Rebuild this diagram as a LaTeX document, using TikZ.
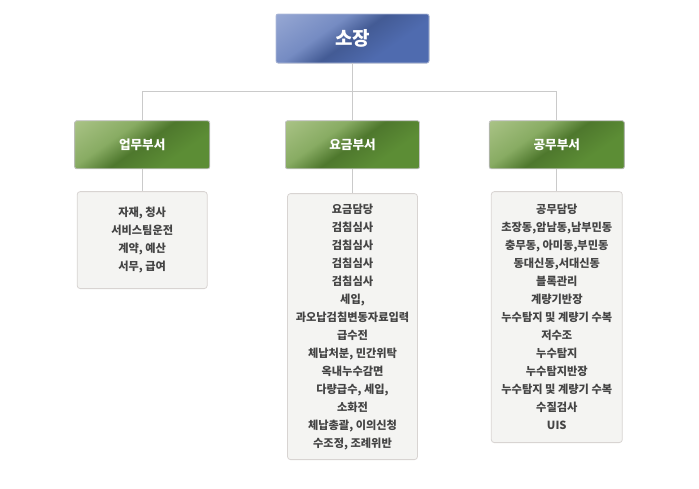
\documentclass[tikz,border=0pt]{standalone}
\usepackage{fontspec}
\setmainfont{Noto Sans CJK KR}
\usepackage{xcolor}
\usepackage{tikz}
\usetikzlibrary{positioning}
\definecolor{chiefLight}{HTML}{A4B3DA}
\definecolor{chiefDark}{HTML}{4F6BAF}
\definecolor{deptLight}{HTML}{BED19B}
\definecolor{deptDark}{HTML}{5C8D35}
\definecolor{taskFill}{HTML}{F4F4F2}
\definecolor{taskEdge}{HTML}{D8D4D2}
\definecolor{linkGray}{HTML}{CACACA}
\definecolor{taskText}{HTML}{444444}
\pgfdeclarehorizontalshading{chiefsheen}{100bp}{color(0bp)=(chiefLight); color(32bp)=(chiefLight!85!chiefDark); color(44bp)=(chiefLight!45!chiefDark); color(50bp)=(chiefDark!85!black); color(58bp)=(chiefDark); color(100bp)=(chiefDark)}
\pgfdeclarehorizontalshading{deptsheen}{100bp}{color(0bp)=(deptLight); color(32bp)=(deptLight!85!deptDark); color(44bp)=(deptLight!45!deptDark); color(50bp)=(deptDark!85!black); color(58bp)=(deptDark); color(100bp)=(deptDark)}
\tikzset{
  gloss/.style={
    path picture={\fill[shading=#1, shading angle=-55]
      ([shift={(-90pt,-90pt)}]path picture bounding box.center) rectangle
      ([shift={(90pt,90pt)}]path picture bounding box.center);}
  },
  chiefbox/.style={
    draw=chiefDark!45!white,
    line width=0.8pt,
    rounded corners=2pt,
    gloss=chiefsheen,
    minimum width=153pt,
    minimum height=49pt,
    text=white,
    font=\bfseries\fontsize{19}{22}\selectfont
  },
  deptbox/.style={
    draw=black!22,
    line width=0.8pt,
    rounded corners=2pt,
    gloss=deptsheen,
    minimum width=135pt,
    minimum height=48pt,
    text=white,
    font=\bfseries\fontsize{12.6}{15}\selectfont
  },
  taskbox/.style={
    draw=taskEdge,
    line width=0.8pt,
    rounded corners=3pt,
    fill=taskFill,
    align=center,
    inner sep=0pt,
    minimum width=130pt,
    text=taskText,
    font=\bfseries\fontsize{11.2}{18}\selectfont
  },
  link/.style={draw=linkGray, line width=1pt}
}

\begin{document}
\begin{tikzpicture}[x=1pt, y=1pt]
\useasboundingbox (0,0) rectangle (699,-488);

\node[chiefbox] (chief) at (352.5,-38.5) {소장};
\node[deptbox, below=57pt of chief, minimum width=134pt] (yogeum) {요금부서};
\node[deptbox, left=75pt of yogeum] (upmu) {업무부서};
\node[deptbox, right=69pt of yogeum] (gongmu) {공무부서};

\node[taskbox, below=22pt of upmu, minimum height=97pt] (upmuTask)
  {자재, 청사\\서비스팀운전\\계약, 예산\\서무, 급여};
\node[taskbox, below=24pt of yogeum, minimum height=266pt] (yogeumTask)
  {요금담당\\검침심사\\검침심사\\검침심사\\검침심사\\세입,\\과오납검침변동자료입력\\급수전\\체납처분, 민간위탁\\옥내누수감면\\다량급수, 세입,\\소화전\\체납총괄, 이의신청\\수조정, 조례위반};
\node[taskbox, below=22pt of gongmu, minimum width=131pt, minimum height=251pt] (gongmuTask)
  {공무담당\\초장동,암남동,남부민동\\충무동, 아미동,부민동\\동대신동,서대신동\\블록관리\\계량기반장\\누수탐지 및 계량기 수복\\저수조\\누수탐지\\누수탐지반장\\누수탐지 및 계량기 수복\\수질검사\\UIS};

% org lines
\draw[link] (chief.south) -- ++(0,-28) coordinate (bus);
\draw[link] (upmu.north) |- (bus) -| (gongmu.north);
\draw[link] (bus) -- (yogeum.north);
\draw[link] (upmu) -- (upmuTask);
\draw[link] (yogeum) -- (yogeumTask);
\draw[link] (gongmu) -- (gongmuTask);
\end{tikzpicture}
\end{document}
